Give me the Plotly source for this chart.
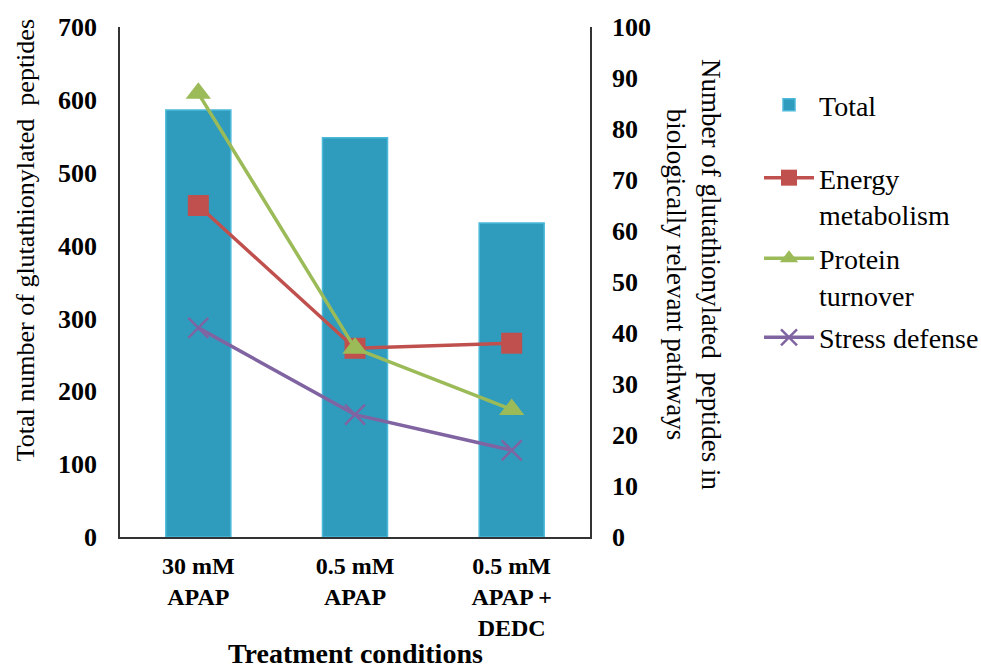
import plotly.graph_objects as go

# Treatment conditions on the category axis
conditions = ["30 mM<br>APAP", "0.5 mM<br>APAP", "0.5 mM<br>APAP +<br>DEDC"]

# Total glutathionylated peptides (left axis)
total = [586, 548, 431]

# Peptides in biologically relevant pathways (right axis)
energy_metabolism = [65, 37, 38]
protein_turnover = [87, 37, 25]
stress_defense = [41, 24, 17]

SERIF = "Liberation Serif"

fig = go.Figure()

fig.add_trace(go.Bar(
    x=conditions, y=total, name="Total", width=0.415,
    marker=dict(color="#2f9cbe", line=dict(color="#4cb9da", width=1.5)),
    legend="legend",
))

line_specs = [
    ("Energy<br>metabolism", energy_metabolism, "#c0504d",
     dict(symbol="square", size=21), "legend2"),
    ("Protein<br>turnover", protein_turnover, "#9bbb59",
     dict(symbol="triangle-up", size=22), "legend3"),
    ("Stress defense", stress_defense, "#8064a2",
     dict(symbol="x-thin-open", size=20, line=dict(width=2.5, color="#8064a2")), "legend4"),
]
for name, vals, color, mk, lg in line_specs:
    fig.add_trace(go.Scatter(
        x=conditions, y=vals, name=name, yaxis="y2",
        mode="lines+markers",
        line=dict(color=color, width=3.5),
        marker=dict(color=color, **mk),
        legend=lg,
    ))

tick_font = dict(family=SERIF, size=26, color="#000000", weight="bold")
legend_common = dict(
    font=dict(family=SERIF, size=28, color="#000000"),
    x=1.3596, xanchor="left", yanchor="top", itemwidth=50,
    bgcolor="rgba(0,0,0,0)", valign="top",
)

fig.update_layout(
    width=981, height=671,
    margin=dict(l=120, r=391, t=27, b=134, autoexpand=False),
    plot_bgcolor="white", paper_bgcolor="white",
    font=dict(family=SERIF, color="#000000"),
    showlegend=True,
    xaxis=dict(
        showline=True, linecolor="#333333", linewidth=1.5,
        ticks="outside", ticklen=6, tickcolor="rgba(0,0,0,0)",
        tickfont=dict(family=SERIF, size=24, color="#000000", weight="bold"),
    ),
    yaxis=dict(
        range=[0, 700], dtick=100, showgrid=False, zeroline=False,
        showline=True, linecolor="#333333", linewidth=1.5,
        ticks="outside", ticklen=16, tickcolor="rgba(0,0,0,0)",
        tickfont=tick_font,
    ),
    yaxis2=dict(
        range=[0, 100], dtick=10, overlaying="y", side="right",
        showgrid=False, zeroline=False,
        showline=True, linecolor="#333333", linewidth=1.5,
        ticks="outside", ticklen=15, tickcolor="rgba(0,0,0,0)",
        tickfont=tick_font,
    ),
    legend=dict(legend_common, y=0.896),
    legend2=dict(legend_common, y=0.753),
    legend3=dict(legend_common, y=0.595),
    legend4=dict(legend_common, y=0.44),
    annotations=[
        dict(text="Total number of glutathionylated  peptides",
             xref="paper", yref="paper", x=-0.202, y=0.582,
             xanchor="center", yanchor="middle",
             textangle=-90, showarrow=False,
             font=dict(family=SERIF, size=26, color="#000000")),
        dict(text="Number of glutathionylated  peptides in<br>biologically relevant pathways",
             xref="paper", yref="paper", x=1.219, y=0.514,
             xanchor="center", yanchor="middle",
             textangle=90, showarrow=False,
             font=dict(family=SERIF, size=27, color="#000000")),
        dict(text="<b>Treatment conditions</b>",
             xref="paper", yref="paper", x=0.5, y=-0.228,
             xanchor="center", yanchor="middle", showarrow=False,
             font=dict(family=SERIF, size=28, color="#000000")),
    ],
)

fig.write_html("out.html")
